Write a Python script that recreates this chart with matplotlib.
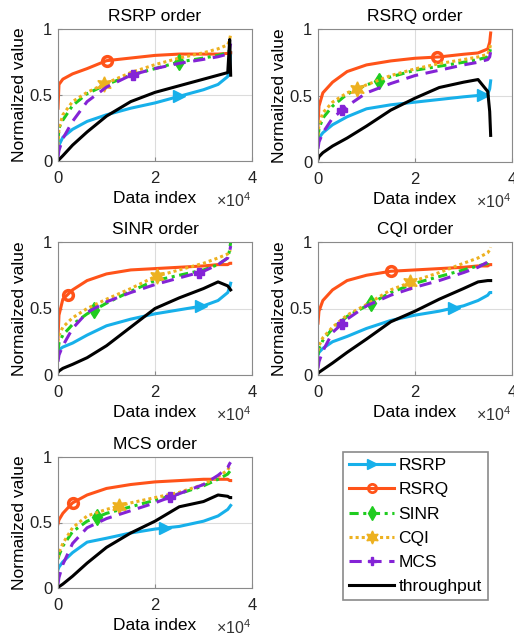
import numpy as np
import matplotlib

matplotlib.use("Agg")
import matplotlib.pyplot as plt
from matplotlib.lines import Line2D
from matplotlib.ticker import FuncFormatter

plt.rcParams["font.family"] = ["Liberation Sans", "DejaVu Sans"]
plt.rcParams["mathtext.fontset"] = "custom"
plt.rcParams["mathtext.rm"] = "Liberation Sans"

# data index grid, in units of 1e4 (shared by all panels)
X = [0, 0.02, 0.1, 0.3, 0.6, 1.0, 1.5, 2.0, 2.5, 3.0, 3.3, 3.5, 3.54, 3.56]

SERIES = ["RSRP", "RSRQ", "SINR", "CQI", "MCS", "throughput"]
TITLES = ["RSRP order", "RSRQ order", "SINR order", "CQI order", "MCS order"]

# --- RSRP order ---
P1_RSRP = [0.05, 0.12, 0.18, 0.24, 0.30, 0.35, 0.40, 0.44, 0.49, 0.54, 0.58, 0.64, 0.72, 0.82]
P1_RSRQ = [0.40, 0.58, 0.62, 0.66, 0.70, 0.76, 0.78, 0.80, 0.81, 0.81, 0.81, 0.815, 0.82, 0.82]
P1_SINR = [0.15, 0.25, 0.31, 0.42, 0.51, 0.58, 0.65, 0.70, 0.75, 0.78, 0.80, 0.82, 0.84, 0.85]
P1_CQI = [0.12, 0.25, 0.35, 0.45, 0.52, 0.59, 0.67, 0.73, 0.78, 0.82, 0.85, 0.88, 0.92, 0.96]
P1_MCS = [0.03, 0.08, 0.17, 0.30, 0.45, 0.56, 0.65, 0.70, 0.74, 0.77, 0.79, 0.81, 0.85, 0.89]
P1_TPUT = [0.0, 0.01, 0.04, 0.12, 0.22, 0.34, 0.45, 0.52, 0.57, 0.62, 0.65, 0.67, 0.92, 0.65]

# --- RSRQ order ---
P2_RSRP = [0.15, 0.18, 0.22, 0.28, 0.34, 0.40, 0.43, 0.45, 0.47, 0.49, 0.50, 0.51, 0.55, 0.61]
P2_RSRQ = [0.28, 0.42, 0.52, 0.60, 0.68, 0.73, 0.76, 0.78, 0.79, 0.81, 0.82, 0.85, 0.90, 0.97]
P2_SINR = [0.18, 0.25, 0.33, 0.42, 0.51, 0.58, 0.64, 0.69, 0.72, 0.75, 0.77, 0.79, 0.82, 0.86]
P2_CQI = [0.20, 0.28, 0.37, 0.45, 0.52, 0.58, 0.65, 0.70, 0.74, 0.77, 0.79, 0.81, 0.85, 0.89]
P2_MCS = [0.10, 0.15, 0.22, 0.33, 0.42, 0.52, 0.59, 0.65, 0.69, 0.73, 0.75, 0.77, 0.79, 0.83]
P2_TPUT = [0.02, 0.04, 0.07, 0.12, 0.18, 0.27, 0.39, 0.48, 0.56, 0.60, 0.62, 0.53, 0.38, 0.20]

# --- SINR order ---
P3_RSRP = [0.16, 0.19, 0.21, 0.24, 0.30, 0.37, 0.42, 0.46, 0.49, 0.52, 0.56, 0.62, 0.66, 0.69]
P3_RSRQ = [0.28, 0.45, 0.57, 0.64, 0.71, 0.76, 0.79, 0.80, 0.81, 0.82, 0.83, 0.83, 0.84, 0.84]
P3_SINR = [0.18, 0.24, 0.30, 0.38, 0.46, 0.54, 0.63, 0.71, 0.75, 0.79, 0.83, 0.88, 0.94, 1.0]
P3_CQI = [0.25, 0.30, 0.36, 0.43, 0.50, 0.57, 0.65, 0.74, 0.79, 0.84, 0.88, 0.91, 0.93, 0.94]
P3_MCS = [0.10, 0.15, 0.22, 0.35, 0.47, 0.55, 0.62, 0.68, 0.73, 0.78, 0.83, 0.88, 0.93, 0.97]
P3_TPUT = [0.02, 0.03, 0.05, 0.08, 0.13, 0.22, 0.36, 0.50, 0.58, 0.65, 0.70, 0.67, 0.65, 0.64]

# --- CQI order ---
P4_RSRP = [0.15, 0.17, 0.20, 0.25, 0.29, 0.35, 0.41, 0.45, 0.48, 0.52, 0.56, 0.60, 0.62, 0.62]
P4_RSRQ = [0.39, 0.48, 0.56, 0.64, 0.71, 0.75, 0.78, 0.79, 0.80, 0.81, 0.82, 0.82, 0.83, 0.83]
P4_SINR = [0.15, 0.20, 0.26, 0.35, 0.44, 0.52, 0.62, 0.69, 0.74, 0.79, 0.82, 0.84, 0.86, 0.87]
P4_CQI = [0.18, 0.22, 0.28, 0.36, 0.45, 0.53, 0.64, 0.71, 0.77, 0.84, 0.88, 0.92, 0.94, 0.96]
P4_MCS = [0.05, 0.10, 0.18, 0.32, 0.42, 0.52, 0.60, 0.66, 0.71, 0.77, 0.81, 0.85, 0.87, 0.88]
P4_TPUT = [0.01, 0.02, 0.04, 0.09, 0.17, 0.27, 0.40, 0.48, 0.57, 0.65, 0.70, 0.71, 0.71, 0.71]

# --- MCS order ---
P5_RSRP = [0.14, 0.16, 0.20, 0.27, 0.35, 0.38, 0.42, 0.45, 0.47, 0.51, 0.55, 0.60, 0.62, 0.63]
P5_RSRQ = [0.49, 0.52, 0.57, 0.65, 0.71, 0.76, 0.79, 0.81, 0.82, 0.83, 0.83, 0.83, 0.82, 0.82]
P5_SINR = [0.22, 0.25, 0.32, 0.43, 0.51, 0.57, 0.62, 0.67, 0.72, 0.78, 0.83, 0.87, 0.89, 0.90]
P5_CQI = [0.23, 0.27, 0.34, 0.46, 0.55, 0.60, 0.65, 0.69, 0.73, 0.79, 0.85, 0.90, 0.93, 0.94]
P5_MCS = [0.03, 0.08, 0.18, 0.34, 0.46, 0.53, 0.59, 0.65, 0.72, 0.79, 0.86, 0.92, 0.95, 0.96]
P5_TPUT = [0.0, 0.01, 0.03, 0.09, 0.19, 0.31, 0.42, 0.51, 0.62, 0.66, 0.71, 0.70, 0.69, 0.69]

# where the single marker of each series sits (x, 1e4 units), RSRP..MCS
P1_MARK = [2.5, 1.0, 2.5, 0.95, 1.55]
P2_MARK = [3.4, 2.45, 1.25, 0.8, 0.5]
P3_MARK = [2.95, 0.2, 0.75, 2.05, 2.9]
P4_MARK = [2.8, 1.5, 1.1, 1.9, 0.5]
P5_MARK = [2.2, 0.3, 0.8, 1.25, 2.3]

PANELS = [
    [P1_RSRP, P1_RSRQ, P1_SINR, P1_CQI, P1_MCS, P1_TPUT],
    [P2_RSRP, P2_RSRQ, P2_SINR, P2_CQI, P2_MCS, P2_TPUT],
    [P3_RSRP, P3_RSRQ, P3_SINR, P3_CQI, P3_MCS, P3_TPUT],
    [P4_RSRP, P4_RSRQ, P4_SINR, P4_CQI, P4_MCS, P4_TPUT],
    [P5_RSRP, P5_RSRQ, P5_SINR, P5_CQI, P5_MCS, P5_TPUT],
]
MARKS = [P1_MARK, P2_MARK, P3_MARK, P4_MARK, P5_MARK]

COLOR = ["#17b0ea", "#ff5319", "#1fcc1f", "#edb120", "#8423d6", "#000000"]
LSTYLE = ["-", "-", (0, (3, 1.5, 1, 1.5)), (0, (1, 1)), (0, (4, 2.5)), "-"]
MARKER = [">", "o", "d", (6, 1, 0), "P", None]
MFACE = ["#17b0ea", "none", "#1fcc1f", "#edb120", "#8423d6", None]
MSIZE = [8.5, 7, 8, 11, 7.5, None]

W, H = 514, 643
# axes boxes in pixels: left, top, right, bottom
BOXES = [(58, 29, 252, 161), (318, 29, 512, 162), (58, 242, 252, 375),
         (318, 242, 512, 375), (58, 457, 252, 588)]

fig = plt.figure(figsize=(W / 100, H / 100), dpi=100)
xs = np.array(X) * 1e4
edge = "#8a8a8a"

for i, (box, title) in enumerate(zip(BOXES, TITLES)):
    l, t, r, b = box
    ax = fig.add_axes([l / W, 1 - b / H, (r - l) / W, (b - t) / H])
    for j, name in enumerate(SERIES):
        ys = PANELS[i][j]
        ax.plot(xs, ys, color=COLOR[j], ls=LSTYLE[j], lw=2.2)
        if MARKER[j] is not None:
            mx = MARKS[i][j]
            my = np.interp(mx, X, ys)
            ax.plot([mx * 1e4], [my], marker=MARKER[j], ms=MSIZE[j], color=COLOR[j],
                    mfc=MFACE[j], mec=COLOR[j], mew=2.5 if j == 1 else 1, ls="none")
    ax.set_xlim(0, 4e4)
    ax.set_ylim(0, 1)
    ax.set_xticks([0, 2e4, 4e4])
    ax.set_yticks([0, 0.5, 1])
    ax.xaxis.set_major_formatter(FuncFormatter(lambda v, p: f"{v / 1e4:g}"))
    ax.yaxis.set_major_formatter(FuncFormatter(lambda v, p: f"{v:g}"))
    ax.grid(True, color="#dcdcdc", lw=0.8)
    ax.set_axisbelow(True)
    for s in ax.spines.values():
        s.set_color(edge)
        s.set_linewidth(0.8)
    ax.tick_params(direction="in", length=3, color=edge, labelsize=12,
                   labelcolor="#222222")
    ax.tick_params(axis="x", pad=7)
    ax.tick_params(axis="y", pad=4)
    ax.set_title(title, fontsize=12.5, pad=6)
    ax.set_xlabel("Data index", fontsize=12.5, labelpad=4)
    ax.set_ylabel("Normailzed value", fontsize=12.5, labelpad=2)
    ax.text(0.995, -0.30, r"$\times10^{4}$", transform=ax.transAxes, ha="right",
            va="center", fontsize=11.5, color="#333333")

handles = []
for j, name in enumerate(SERIES):
    handles.append(Line2D([], [], color=COLOR[j], ls=LSTYLE[j], lw=2.2,
                          marker=MARKER[j], ms=(MSIZE[j] or 0) * 0.85,
                          mfc=MFACE[j], mec=COLOR[j], mew=2 if j == 1 else 1))
leg = fig.legend(handles, SERIES, loc="upper left",
                 bbox_to_anchor=(343 / W, 1 - 452 / H), fontsize=12.5,
                 handlelength=2.6, handletextpad=0.25, labelspacing=0.52,
                 borderpad=0.35, borderaxespad=0, fancybox=False,
                 edgecolor=edge, framealpha=1)
leg.get_frame().set_linewidth(1.2)

fig.savefig("out.png", dpi=100)
